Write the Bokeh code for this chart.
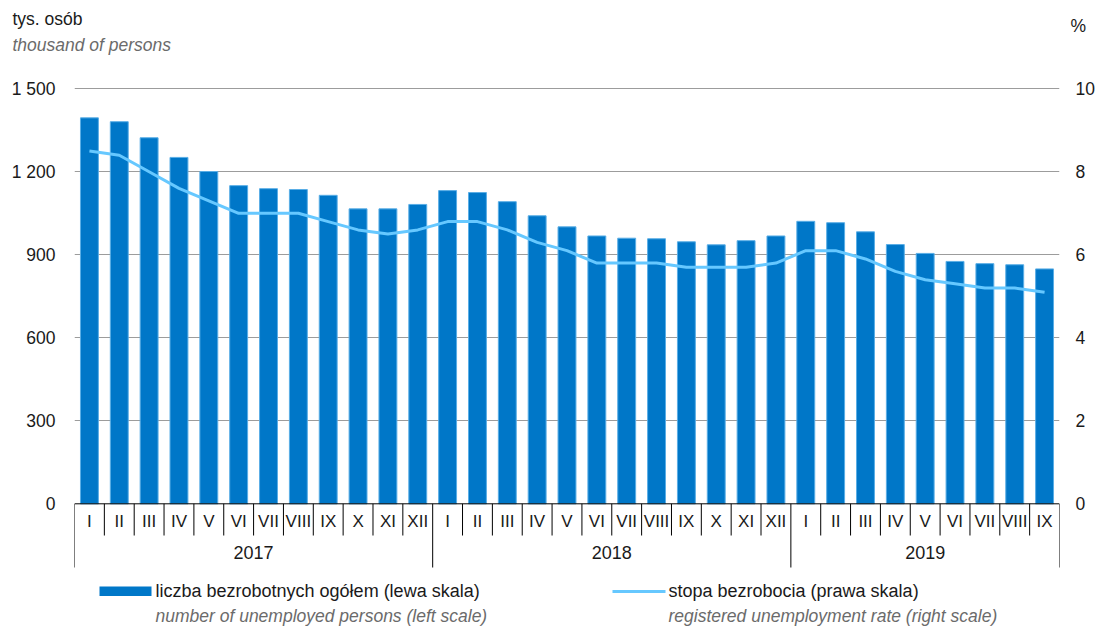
import numpy as np
from bokeh.plotting import figure
from bokeh.layouts import column
from bokeh.models import Range1d, LinearAxis, FixedTicker
from bokeh.core.properties import value
from bokeh.embed import file_html
from bokeh.resources import INLINE

# ---- data ----
years = ["2017", "2018", "2019"]
months_2017 = ["I", "II", "III", "IV", "V", "VI", "VII", "VIII", "IX", "X", "XI", "XII"]
months_2018 = ["I", "II", "III", "IV", "V", "VI", "VII", "VIII", "IX", "X", "XI", "XII"]
months_2019 = ["I", "II", "III", "IV", "V", "VI", "VII", "VIII", "IX"]

unemployed_2017 = [1395, 1381, 1323, 1252, 1201, 1150, 1139, 1136, 1115, 1066, 1066, 1082]
unemployed_2018 = [1132, 1125, 1092, 1041, 1001, 968, 960, 958, 947, 936, 951, 968]
unemployed_2019 = [1021, 1016, 983, 937, 905, 876, 868, 864, 849]

rate_2017 = [8.5, 8.4, 8.0, 7.6, 7.3, 7.0, 7.0, 7.0, 6.8, 6.6, 6.5, 6.6]
rate_2018 = [6.8, 6.8, 6.6, 6.3, 6.1, 5.8, 5.8, 5.8, 5.7, 5.7, 5.7, 5.8]
rate_2019 = [6.1, 6.1, 5.9, 5.6, 5.4, 5.3, 5.2, 5.2, 5.1]

left_ticks = [0, 300, 600, 900, 1200, 1500]
left_tick_labels = ["0", "300", "600", "900", "1 200", "1 500"]
right_ticks = [0, 2, 4, 6, 8, 10]

label_unit_pl = "tys. osób"
label_unit_en = "thousand of persons"
label_pct = "%"
legend_bar_pl = "liczba bezrobotnych ogółem (lewa skala)"
legend_bar_en = "number of unemployed persons (left scale)"
legend_line_pl = "stopa bezrobocia (prawa skala)"
legend_line_en = "registered unemployment rate (right scale)"

# ---- derived ----
month_groups = [months_2017, months_2018, months_2019]
months = months_2017 + months_2018 + months_2019
unemployed = unemployed_2017 + unemployed_2018 + unemployed_2019
rates = rate_2017 + rate_2018 + rate_2019
n = len(months)
centers = np.arange(n) + 0.5

# ---- geometry (pixels of the whole picture) ----
W, H = 1110, 628
HEAD_H = 56
FL, FR = 74, 1059               # frame left/right
ZERO_Y, PX_PER_UNIT = 503.3, 0.27667
RATIO = 150.0                   # left units per right unit
cat_w = (FR - FL) / n

def sx(px):
    return (px - FL) / cat_w

def sy(py):
    return (ZERO_Y - py) / PX_PER_UNIT

y_start, y_end = sy(H), sy(HEAD_H)

BLUE = "#0077c8"
LIGHT = "#66c8ff"
FONT = "Liberation Sans"
TXT = "#1a1a1a"
GREY = "#6b6b6b"

# ---- header strip ----
head = figure(width=W, height=HEAD_H, output_backend="svg", toolbar_location=None,
              x_range=Range1d(0, W), y_range=Range1d(HEAD_H, 0),
              x_axis_type=None, y_axis_type=None,
              min_border_left=0, min_border_right=0, min_border_top=0, min_border_bottom=0)
head.frame_align = False
head.outline_line_color = None
head.xgrid.visible = False
head.ygrid.visible = False
head.text(x=[12, 1070], y=[18, 25], text=[label_unit_pl, label_pct], text_align="left",
          text_baseline="middle", text_font=value(FONT), text_font_size="17.5px", text_color=TXT)
head.text(x=[12], y=[44], text=[label_unit_en], text_align="left", text_baseline="middle",
          text_font=value(FONT), text_font_size="17.5px", text_font_style="italic",
          text_color=GREY)

# ---- main chart ----
p = figure(width=W, height=H - HEAD_H, output_backend="svg", toolbar_location=None,
           x_range=Range1d(0, n), y_range=Range1d(y_start, y_end),
           x_axis_type=None, y_axis_location="left",
           min_border_left=FL, min_border_right=W - FR, min_border_top=0, min_border_bottom=0)
p.frame_align = False
p.outline_line_color = None
p.xgrid.visible = False
p.ygrid.ticker = FixedTicker(ticks=left_ticks[1:])
p.ygrid.grid_line_color = "#9c9c9c"
p.ygrid.grid_line_width = 1.2

ax = p.yaxis[0]
ax.ticker = FixedTicker(ticks=left_ticks)
ax.major_label_overrides = {t: l for t, l in zip(left_ticks, left_tick_labels)}
ax.axis_line_color = None
ax.major_tick_line_color = None
ax.minor_tick_line_color = None
ax.major_tick_out = 0
ax.major_label_standoff = 19
ax.major_label_text_font = FONT
ax.major_label_text_font_size = "17.5px"
ax.major_label_text_color = TXT

p.extra_y_ranges = {"rate": Range1d(y_start / RATIO, y_end / RATIO)}
rax = LinearAxis(y_range_name="rate", ticker=FixedTicker(ticks=right_ticks))
rax.axis_line_color = None
rax.major_tick_line_color = None
rax.minor_tick_line_color = None
rax.major_tick_out = 0
rax.major_label_standoff = 16
rax.major_label_text_font = FONT
rax.major_label_text_font_size = "17.5px"
rax.major_label_text_color = TXT
p.add_layout(rax, "right")

# bars and line
p.vbar(x=centers, top=unemployed, bottom=0, width=0.6,
       fill_color=BLUE, line_color="#5aaee6", line_width=1)
p.line(x=centers, y=rates, y_range_name="rate", line_color=LIGHT, line_width=3)

# category axis drawn by hand
p.segment(x0=[0], y0=[0], x1=[n], y1=[0], line_color="black", line_width=1)
year_bounds = [0]
for g in month_groups:
    year_bounds.append(year_bounds[-1] + len(g))
month_bounds = [b for b in range(n + 1) if b not in year_bounds]
p.segment(x0=month_bounds, y0=[0] * len(month_bounds), x1=month_bounds,
          y1=[sy(535)] * len(month_bounds), line_color="black", line_width=1)
p.segment(x0=year_bounds, y0=[0] * len(year_bounds), x1=year_bounds,
          y1=[sy(567)] * len(year_bounds), line_color="black", line_width=1)
p.text(x=centers, y=[sy(521)] * n, text=months, text_align="center", text_baseline="middle",
       text_font=value(FONT), text_font_size="17px", text_color=TXT)
year_centers = [(year_bounds[i] + year_bounds[i + 1]) / 2 for i in range(len(years))]
p.text(x=year_centers, y=[sy(552)] * len(years), text=years, text_align="center",
       text_baseline="middle", text_font=value(FONT), text_font_size="18px", text_color=TXT)

# legend
p.quad(left=[sx(99)], right=[sx(151)], top=[sy(586)], bottom=[sy(595.5)],
       fill_color=BLUE, line_color=None)
p.segment(x0=[sx(612)], y0=[sy(591)], x1=[sx(665)], y1=[sy(591)],
          line_color=LIGHT, line_width=3)
p.text(x=[sx(155), sx(668)], y=[sy(590)] * 2, text=[legend_bar_pl, legend_line_pl],
       text_align="left", text_baseline="middle", text_font=value(FONT),
       text_font_size="18px", text_color=TXT)
p.text(x=[sx(155), sx(668)], y=[sy(615)] * 2, text=[legend_bar_en, legend_line_en],
       text_align="left", text_baseline="middle", text_font=value(FONT),
       text_font_size="17.5px", text_font_style="italic", text_color=GREY)

layout = column(head, p, spacing=0)
open("out.html", "w").write(file_html(layout, INLINE))
